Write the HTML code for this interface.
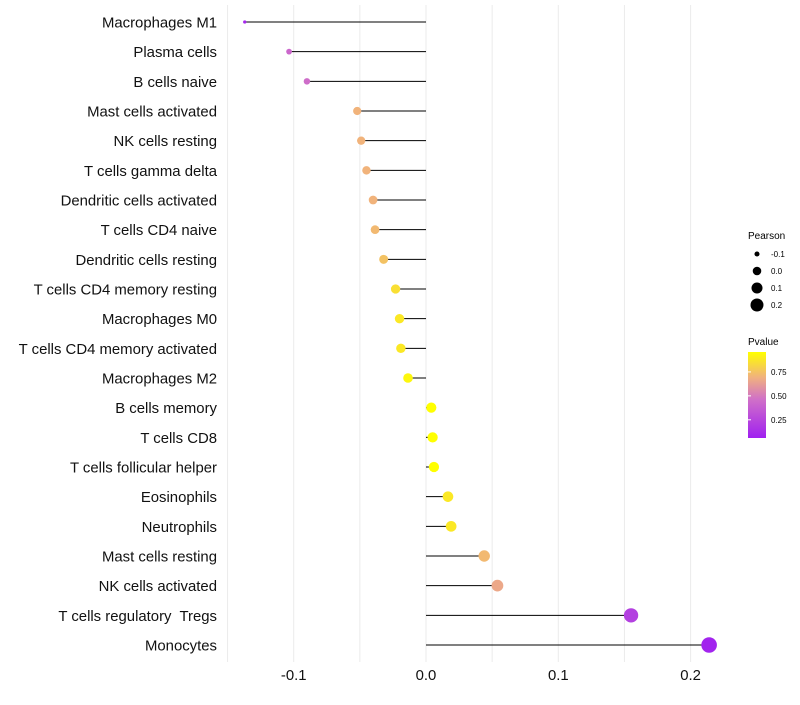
<!DOCTYPE html>
<html><head><meta charset="utf-8"><style>
body{margin:0;background:#fff;font-family:"Liberation Sans",sans-serif;}
svg text{font-family:"Liberation Sans",sans-serif;white-space:pre;}
</style></head><body>
<svg id="chart" width="800" height="700" xmlns="http://www.w3.org/2000/svg">
<g id="grid"></g>
<g id="marks"></g>
<g id="ylab"></g>
<g id="xlab"></g>
<g>
<text x="748" y="239" font-size="10" fill="#000">Pearson</text>
<g id="sizeleg"></g>
</g>
<g>
<text x="748" y="345" font-size="10" fill="#000">Pvalue</text>
<defs><linearGradient id="pg" x1="0" y1="1" x2="0" y2="0">
<stop offset="0" stop-color="#a020f0"/><stop offset="0.45" stop-color="#d070c8"/><stop offset="0.7" stop-color="#f0b080"/><stop offset="1" stop-color="#ffff00"/>
</linearGradient></defs>
<rect x="748" y="352" width="18" height="86" fill="url(#pg)"/>
<g id="colleg"></g>
</g>
</svg>
<script>
const categories=["Macrophages M1","Plasma cells","B cells naive","Mast cells activated","NK cells resting","T cells gamma delta","Dendritic cells activated","T cells CD4 naive","Dendritic cells resting","T cells CD4 memory resting","Macrophages M0","T cells CD4 memory activated","Macrophages M2","B cells memory","T cells CD8","T cells follicular helper","Eosinophils","Neutrophils","Mast cells resting","NK cells activated","T cells regulatory  Tregs","Monocytes"];
const pearson=[-0.137,-0.1035,-0.090,-0.052,-0.049,-0.045,-0.040,-0.0385,-0.032,-0.023,-0.020,-0.019,-0.0136,0.004,0.005,0.006,0.0166,0.019,0.044,0.054,0.155,0.214];
const pvalue=[0.10,0.42,0.45,0.70,0.70,0.70,0.70,0.72,0.75,0.85,0.88,0.88,0.93,0.97,0.97,0.96,0.88,0.88,0.72,0.66,0.22,0.08];
const xTicks=[-0.1,0.0,0.1,0.2];
const xTickLabels=["-0.1","0.0","0.1","0.2"];
const gridVals=[-0.15,-0.1,-0.05,0,0.05,0.1,0.15,0.2];
const sizeLegVals=[-0.1,0.0,0.1,0.2];
const sizeLegLabels=["-0.1","0.0","0.1","0.2"];
const colLegVals=[0.75,0.5,0.25];
const colLegLabels=["0.75","0.50","0.25"];

const NS="http://www.w3.org/2000/svg";
const x=v=>426+v*1323;
const y=i=>22+i*(623/21);
const r=v=>Math.sqrt(2.25+Math.max(0,(v+0.137)/0.351)*48)*1.1;
const stops=[[0,[160,32,240]],[0.45,[208,112,200]],[0.7,[240,176,128]],[1,[255,255,0]]];
function col(p){const t=Math.max(0,Math.min(1,(p-0.06)/(0.958-0.06)));
for(let k=1;k<stops.length;k++){if(t<=stops[k][0]){const a=stops[k-1],b=stops[k];const f=(t-a[0])/(b[0]-a[0]);
return "rgb("+a[1].map((c,j)=>Math.round(c+(b[1][j]-c)*f)).join(",")+")";}}return "rgb(255,255,0)";}
function mk(tag,attrs,parent){const e=document.createElementNS(NS,tag);for(const k in attrs)e.setAttribute(k,attrs[k]);parent.appendChild(e);return e;}
const grid=document.getElementById("grid"),marks=document.getElementById("marks"),ylab=document.getElementById("ylab"),xlab=document.getElementById("xlab");
gridVals.forEach(v=>{const l=mk("line",{x1:x(v),x2:x(v),y1:5,y2:662,stroke:"#ebebeb","stroke-width":1},grid);

});
categories.forEach((c,i)=>{
const ln=mk("line",{x1:x(0),x2:x(pearson[i]),y1:y(i),y2:y(i),stroke:"#000","stroke-width":1},marks);


const pt=mk("circle",{cx:x(pearson[i]),cy:y(i),r:r(pearson[i]),fill:col(pvalue[i])},marks);


const t=mk("text",{x:217,y:y(i)+5.5,"text-anchor":"end","font-size":14.9,fill:"#111"},ylab);t.textContent=c;


});
xTicks.forEach((v,i)=>{const t=mk("text",{x:x(v),y:680,"text-anchor":"middle","font-size":14.9,fill:"#111"},xlab);t.textContent=xTickLabels[i];

});
const sl=document.getElementById("sizeleg");
sizeLegVals.forEach((v,i)=>{const cy=254+i*17;
const c=mk("circle",{cx:757,cy:cy,r:r(v)*0.85,fill:"#000"},sl);


const t=mk("text",{x:771,y:cy+3,"font-size":8,fill:"#000"},sl);t.textContent=sizeLegLabels[i];

});
const cl=document.getElementById("colleg");
colLegVals.forEach((v,i)=>{const cy=438-(v-0.06)/(0.958-0.06)*86;
const t=mk("text",{x:771,y:cy+3,"font-size":8,fill:"#000"},cl);t.textContent=colLegLabels[i];


const tk=mk("line",{x1:748,x2:751,y1:cy,y2:cy,stroke:"#fff"},cl);

});
</script>
</body></html>
